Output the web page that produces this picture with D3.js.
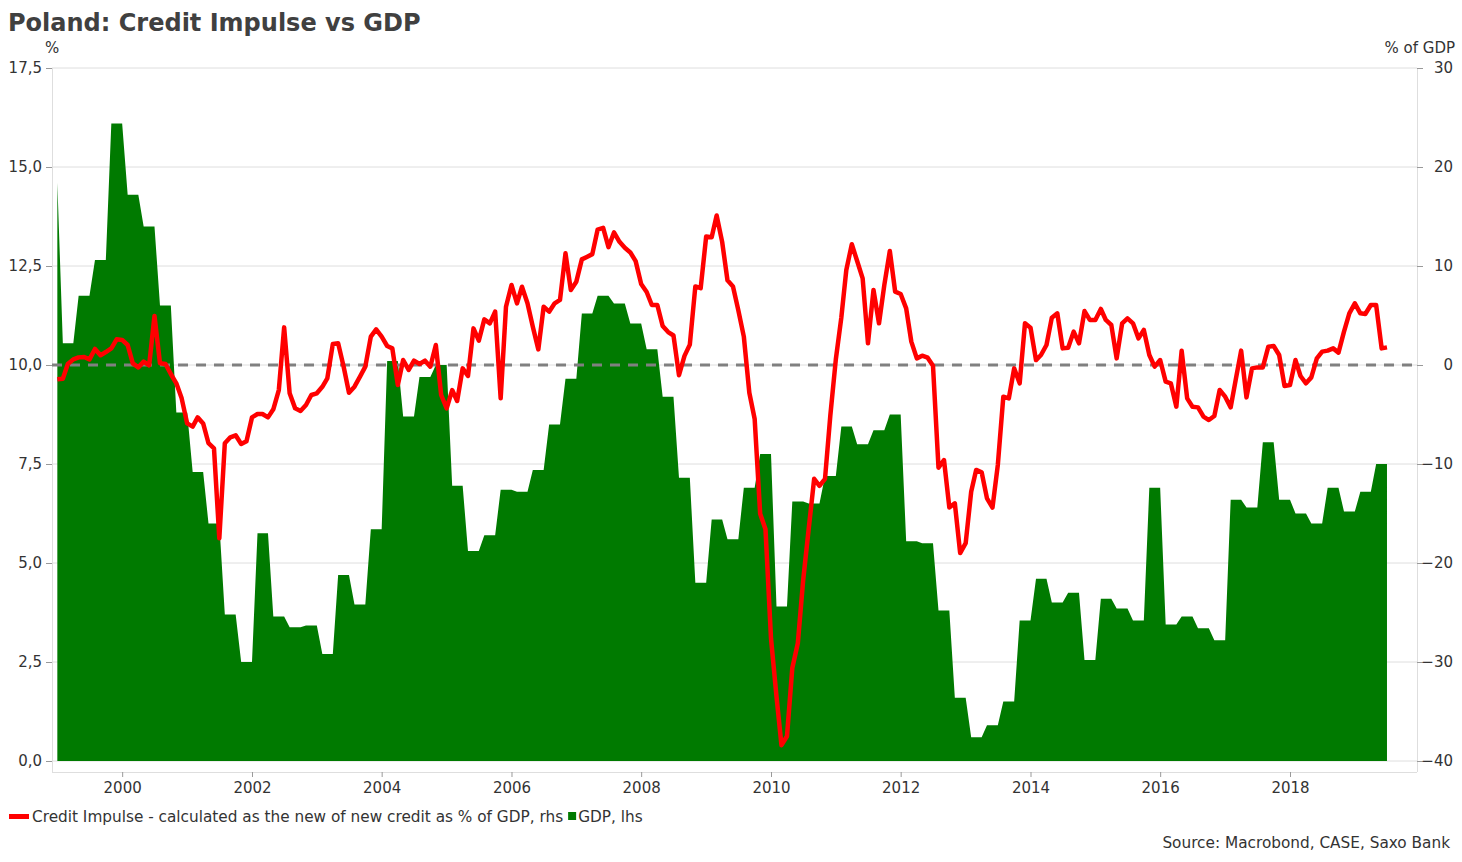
<!DOCTYPE html>
<html><head><meta charset="utf-8">
<script src="https://cdn.jsdelivr.net/npm/d3@7"></script>
<style>
body{margin:0;background:#fff;}
svg{display:block;font-family:"DejaVu Sans",Verdana,sans-serif;}
</style>
</head><body>
<svg id="chart" width="1462" height="862"></svg>
<script>
// ---------------- DATA ----------------
const gdpFirstValue = 14.6; // Jan 1999
const gdpQuarterly = [10.55,11.75,12.65,16.1,14.3,13.5,11.5,8.8,7.3,6.0,3.7,2.5,5.75,3.65,3.38,3.42,2.7,4.7,3.95,5.85,
  10.1,8.7,9.7,10.0,6.95,5.3,5.7,6.85,6.8,7.35,8.5,9.65,11.3,11.75,11.55,11.05,10.4,9.2,7.15,4.5,
  6.1,5.6,6.9,7.75,3.9,6.55,6.5,7.2,8.45,8.0,8.35,8.75,5.55,5.5,3.8,1.6,0.6,0.9,1.5,3.55,
  4.6,4.0,4.25,2.55,4.1,3.85,3.55,6.9,3.45,3.65,3.35,3.05,6.6,6.4,8.05,6.6,6.25,6.0,6.9,6.3,6.8,7.5];
const creditImpulse = [-1.45,-1.38,0.1,0.57,0.77,0.81,0.57,1.62,0.98,1.31,1.68,2.59,2.53,2.02,0.17,-0.24,0.34,-0.03,4.95,0.17,
  0.1,-0.91,-1.85,-3.37,-5.9,-6.23,-5.29,-5.9,-7.9,-8.42,-17.5,-7.9,-7.3,-7.1,-7.98,-7.7,-5.29,-4.95,-4.95,-5.29,
  -4.48,-2.53,3.8,-2.86,-4.38,-4.65,-4.04,-3.03,-2.86,-2.2,-1.35,2.12,2.19,-0.17,-2.8,-2.19,-1.18,-0.17,2.86,3.6,
  2.86,1.92,1.68,-2.02,0.5,-0.5,0.44,0.1,0.44,-0.17,2.02,-3.03,-4.38,-2.53,-3.64,-0.34,-1.11,3.7,2.46,4.61,
  4.21,5.39,-3.37,5.89,8.08,6.23,7.91,6.23,3.87,1.58,5.89,5.39,6.23,6.57,11.28,7.58,8.42,10.67,10.92,11.2,
  13.68,13.86,11.91,13.39,12.44,11.84,11.37,10.49,8.18,7.37,6.06,6.06,3.94,3.33,2.98,-1.03,0.92,2.06,7.94,7.76,
  12.97,12.9,15.1,12.44,8.55,7.94,5.53,2.87,-2.8,-5.45,-15.03,-16.6,-27.6,-33.5,-38.4,-37.5,-30.6,-28.1,-21.76,-16.6,
  -11.5,-12.2,-11.5,-5.1,0.57,4.8,9.6,12.2,10.5,8.75,2.19,7.58,4.21,8.08,11.52,7.41,7.17,5.72,2.36,0.67,
  0.94,0.74,-0.07,-10.37,-9.6,-14.4,-13.97,-19.0,-18.0,-12.8,-10.6,-10.84,-13.47,-14.4,-10.1,-3.2,-3.37,-0.34,-1.85,4.21,
  3.77,0.5,1.01,2.02,4.78,5.22,1.68,1.75,3.37,2.19,5.45,4.55,4.55,5.66,4.55,4.04,0.67,4.21,4.71,4.21,
  2.69,3.54,1.01,-0.17,0.5,-1.68,-1.85,-4.21,1.45,-3.37,-4.21,-4.28,-5.22,-5.56,-5.15,-2.53,-3.2,-4.28,-1.52,1.45,
  -3.27,-0.34,-0.24,-0.24,1.85,1.92,1.01,-2.12,-2.02,0.5,-1.11,-1.85,-1.25,0.67,1.35,1.45,1.68,1.25,3.37,5.22,
  6.23,5.22,5.15,6.06,6.06,1.68,1.78];
const seriesStart = {year: 1999, month: 0}; // monthly observations
const leftTicks = [0, 2.5, 5, 7.5, 10, 12.5, 15, 17.5];
const rightTicks = [-40, -30, -20, -10, 0, 10, 20, 30];
const xTickYears = [2000, 2002, 2004, 2006, 2008, 2010, 2012, 2014, 2016, 2018];
const titleText = "Poland: Credit Impulse vs GDP";
const legendCredit = "Credit Impulse - calculated as the new of new credit as % of GDP, rhs";
const legendGdp = "GDP, lhs";
const sourceText = "Source: Macrobond, CASE, Saxo Bank";

// ---------------- BUILD ----------------
const svg = d3.select("#chart");
const P = {left: 52, right: 1417, top: 68, bottom: 761, axisY: 772};
const textCol = "#333333";
const gridCol = "#dedede";
const fs = "15px";
const fsLegend = "15.3px";

const dateOf = i => new Date(seriesStart.year, seriesStart.month + i, 1);
const x = d3.scaleTime()
  .domain([new Date(1998, 11, 2), new Date(2019, 11, 17)])
  .range([P.left, P.right]);
const yL = d3.scaleLinear().domain([0, 17.5]).range([P.bottom, P.top]);
const yR = d3.scaleLinear().domain([-40, 30]).range([P.bottom, P.top]);

const loc = d3.formatLocale({decimal: ",", thousands: ".", grouping: [3], currency: ["", ""]});
const fmtL = loc.format(".1f");

// gdp monthly points: quarterly values held for 3 months
const gdpPts = [{d: dateOf(0), v: gdpFirstValue}];
gdpQuarterly.forEach((v, k) => {
  for (let m = 1; m <= 3; m++) gdpPts.push({d: dateOf(3 * k + m), v});
});
const ciPts = creditImpulse.map((v, i) => ({d: dateOf(i), v}));

// gridlines
svg.append("g").selectAll("line").data(leftTicks).join("line")
  .attr("x1", P.left).attr("x2", P.right)
  .attr("y1", d => yL(d)).attr("y2", d => yL(d))
  .attr("stroke", gridCol).attr("stroke-width", 1);

// frame verticals
svg.append("line").attr("x1", P.left + 0.5).attr("x2", P.left + 0.5)
  .attr("y1", P.top).attr("y2", P.axisY).attr("stroke", gridCol);
svg.append("line").attr("x1", P.right + 0.5).attr("x2", P.right + 0.5)
  .attr("y1", P.top).attr("y2", P.axisY).attr("stroke", gridCol);

// GDP area
svg.append("path").datum(gdpPts)
  .attr("fill", "#007a00")
  .attr("d", d3.area().x(d => x(d.d)).y0(yL(0)).y1(d => yL(d.v)));

// zero line (rhs)
svg.append("line").attr("x1", P.left).attr("x2", P.right)
  .attr("y1", yR(0)).attr("y2", yR(0))
  .attr("stroke", "#808080").attr("stroke-width", 3).attr("stroke-dasharray", "10,8");

// credit impulse line
svg.append("path").datum(ciPts)
  .attr("fill", "none").attr("stroke", "#ff0000").attr("stroke-width", 4.5)
  .attr("stroke-linejoin", "round")
  .attr("d", d3.line().x(d => x(d.d)).y(d => yR(d.v)));

// left axis
const gL = svg.append("g").attr("transform", `translate(${P.left},0)`)
  .call(d3.axisLeft(yL).tickValues(leftTicks).tickSize(6).tickPadding(4).tickFormat(fmtL));
gL.select(".domain").remove();
gL.selectAll(".tick line").attr("stroke", "#999");
gL.selectAll(".tick text").attr("fill", textCol).style("font-size", fs).style("font-family", "DejaVu Sans");

// right axis
const gR = svg.append("g").attr("transform", `translate(${P.right},0)`)
  .call(d3.axisRight(yR).tickValues(rightTicks).tickSize(6).tickFormat(d3.format("d")));
gR.select(".domain").remove();
gR.selectAll(".tick line").attr("stroke", "#999");
gR.selectAll(".tick text").attr("fill", textCol).attr("text-anchor", "end").attr("x", 36)
  .style("font-size", fs).style("font-family", "DejaVu Sans");

// x axis
svg.append("line").attr("x1", P.left).attr("x2", P.right)
  .attr("y1", P.axisY + 0.5).attr("y2", P.axisY + 0.5).attr("stroke", gridCol);
const gX = svg.append("g").attr("transform", `translate(0,${P.axisY})`)
  .call(d3.axisBottom(x).tickValues(xTickYears.map(y => new Date(y, 0, 1)))
    .tickSize(5).tickPadding(5).tickFormat(d3.timeFormat("%Y")));
gX.select(".domain").remove();
gX.selectAll(".tick line").attr("stroke", "#999");
gX.selectAll(".tick text").attr("fill", textCol).style("font-size", fs).style("font-family", "DejaVu Sans");

// title & axis titles
svg.append("text").attr("x", 8).attr("y", 31).text(titleText)
  .attr("fill", "#404040").style("font-size", "24px").style("font-weight", "bold");
svg.append("text").attr("x", 45).attr("y", 53).text("%")
  .attr("fill", textCol).style("font-size", fs);
svg.append("text").attr("x", 1455).attr("y", 53).attr("text-anchor", "end").text("% of GDP")
  .attr("fill", textCol).style("font-size", fs);

// legend
svg.append("rect").attr("x", 9).attr("y", 814).attr("width", 20).attr("height", 5).attr("fill", "#ff0000");
const lt1 = svg.append("text").attr("x", 32).attr("y", 822).text(legendCredit)
  .attr("fill", textCol).style("font-size", fsLegend);
const w1 = lt1.node().getComputedTextLength();
svg.append("rect").attr("x", 32 + w1 + 5).attr("y", 812).attr("width", 8).attr("height", 8).attr("fill", "#007a00");
svg.append("text").attr("x", 32 + w1 + 15).attr("y", 822).text(legendGdp)
  .attr("fill", textCol).style("font-size", fsLegend);

// source
svg.append("text").attr("x", 1450).attr("y", 848).attr("text-anchor", "end").text(sourceText)
  .attr("fill", textCol).style("font-size", fsLegend);
</script>
</body></html>
